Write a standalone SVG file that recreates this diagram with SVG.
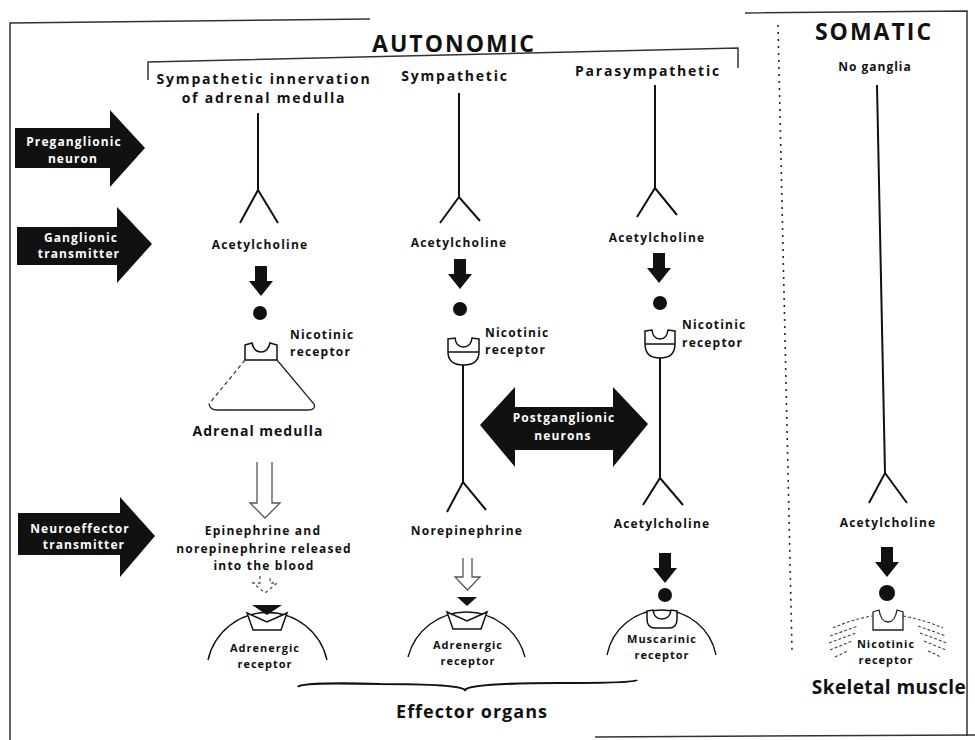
<svg xmlns="http://www.w3.org/2000/svg" width="975" height="740" viewBox="0 0 975 740">
<style>
text{font-family:'Open Sans','Liberation Sans',sans-serif;font-weight:700;fill:#111}
.t{font-size:12px;letter-spacing:1.2px}
.s{font-size:11px;letter-spacing:1px}
.h{font-size:14px;letter-spacing:1.8px}
.big{font-size:23px;letter-spacing:2px}
.w{fill:#fff;font-size:12px;letter-spacing:1.1px}
.m{text-anchor:middle}
.ln{stroke:#111;stroke-width:2;fill:none}
.fr{stroke:#333;stroke-width:1.5;fill:none}
.blk{fill:#111}
.rc{fill:#fff;stroke:#111;stroke-width:1.5}
.open{fill:none;stroke:#555;stroke-width:1.3}
</style>
<defs>
<path id="dn" d="M-6,0 H6 V15 H12 L0,30 L-12,15 H-6 Z"/>
</defs>
<rect width="975" height="740" fill="#fff"/>

<g id="frame">
<path class="fr" d="M10,740 V23 L370,19"/>
<path class="fr" d="M745,13 L967,11 V736"/>
<path class="fr" d="M595,737 L975,735"/>
<path class="fr" d="M148,80 V62 L738,48 V68"/>
<path d="M778,25 L792,650" stroke="#222" stroke-width="1.6" stroke-dasharray="2 5" fill="none"/>
</g>

<g id="titles">
<text class="big m" x="454" y="52">AUTONOMIC</text>
<text class="big m" x="874" y="40">SOMATIC</text>
<text class="h m" x="264" y="84">Sympathetic innervation</text>
<text class="h m" x="264" y="103">of adrenal medulla</text>
<text class="h m" x="455" y="81">Sympathetic</text>
<text class="h m" x="648" y="76">Parasympathetic</text>
<text class="m" x="875" y="71" style="font-size:12px;letter-spacing:1px">No ganglia</text>
</g>

<g id="label-preganglionic">
<path class="blk" d="M15,128 H110 V110 L145,148 L110,187 V168 H15 Z"/>
<text class="w m" x="74" y="146">Preganglionic</text>
<text class="w m" x="73" y="163">neuron</text>
</g>
<g id="label-ganglionic">
<path class="blk" d="M17,227 H117 V207 L152,244 L117,283 V265 H17 Z"/>
<text class="w m" x="81" y="242">Ganglionic</text>
<text class="w m" x="79" y="258">transmitter</text>
</g>
<g id="label-neuroeffector">
<path class="blk" d="M18,513 H120 V497 L155,536 L120,577 V555 H18 Z"/>
<text class="w m" x="80" y="533">Neuroeffector</text>
<text class="w m" x="84" y="549">transmitter</text>
</g>
<g id="label-postganglionic">
<path class="blk" d="M480,425 L515,387 V407 H613 V387 L648,424 L613,467 V450 H515 V467 Z"/>
<text class="w m" x="564" y="422">Postganglionic</text>
<text class="w m" x="563" y="440">neurons</text>
</g>

<g id="connectors">
<path class="ln" d="M258,113 V190 M240,223 L258,190 L278,223"/>
<use href="#dn" x="261" y="266" class="blk"/>
<path class="open" d="M257,462 V503 H250 L265,518 L280,503 H272 V462"/>
<path class="open" stroke-dasharray="3 3" d="M260,576 V583 H253 L265,593 L277,583 H270 V576"/>
<path class="ln" d="M459,93 V197 M440,223 L459,197 L480,221"/>
<use href="#dn" x="460" y="259" class="blk"/>
<path class="ln" d="M463,365 V482 M447,512 L463,482 L486,510"/>
<path class="open" d="M463,558 V577 H455 L467.5,590 L480,577 H472 V558"/>
<path class="ln" d="M655,85 V188 M637,217 L655,188 L677,215"/>
<use href="#dn" x="659" y="253" class="blk"/>
<path class="ln" d="M660,358 V478 M643,505 L660,478 L683,505"/>
<use href="#dn" x="665" y="553" class="blk"/>
<path class="ln" d="M877,85 L885,473 M869,503 L885,473 L907,503"/>
<use href="#dn" x="887" y="547" class="blk"/>
</g>

<g id="ach1"><text class="t m" x="260" y="249">Acetylcholine</text><circle cx="260" cy="313" r="7" class="blk"/></g>
<g id="ach2"><text class="t m" x="459" y="247">Acetylcholine</text><circle cx="460" cy="309" r="7" class="blk"/></g>
<g id="ach3"><text class="t m" x="657" y="242">Acetylcholine</text><circle cx="660" cy="303" r="7" class="blk"/></g>

<g id="adrenal-medulla">
<path class="rc" d="M245,345 L252,343 Q254,352 261,352 Q268,352 270,343 L277,345 V360 H245 Z"/>
<path d="M245,360 L209,404" stroke="#444" stroke-width="1.3" stroke-dasharray="4 3" fill="none"/>
<path d="M209,404 Q210,410 217,410 H308 Q316,410 314,404 L277,360" stroke="#222" stroke-width="1.3" fill="none"/>
<text class="t" x="290" y="339">Nicotinic</text>
<text class="t" x="290" y="356">receptor</text>
<text class="m" x="258" y="436" style="font-size:14px;letter-spacing:1px">Adrenal medulla</text>
</g>

<g id="nicotinic2">
<path class="rc" d="M448,339 L455,338 Q456,347 463.5,347 Q471,347 472,338 L479,339 V352 Q479,365 463.5,365 Q448,365 448,352 Z M448,352 H479"/>
<text class="t" x="485" y="337">Nicotinic</text>
<text class="t" x="485" y="354">receptor</text>
</g>
<g id="nicotinic3">
<path class="rc" d="M645,331 L652,330 Q653,339 660,339 Q667,339 668,330 L675,331 V344 Q675,358 660,358 Q645,358 645,344 Z M645,344 H675"/>
<text class="t" x="682" y="329">Nicotinic</text>
<text class="t" x="682" y="347">receptor</text>
</g>

<g id="blood-release">
<text class="t m" x="263" y="535">Epinephrine and</text>
<text class="t m" x="264" y="553">norepinephrine released</text>
<text class="t m" x="264" y="570">into the blood</text>
</g>
<g id="norepinephrine"><text class="t m" x="467" y="535">Norepinephrine</text></g>
<g id="ach3b"><text class="t m" x="662" y="528">Acetylcholine</text><circle cx="665" cy="595" r="7" class="blk"/></g>
<g id="ach-somatic"><text class="t m" x="888" y="527">Acetylcholine</text><circle cx="887" cy="593" r="8" class="blk"/></g>

<g id="effector1">
<path class="blk" d="M252,605 H282 L267,615 Z"/>
<path class="ln" style="stroke-width:1.4" d="M208,660 A61,61 0 0 1 327,660"/>
<path class="rc" d="M247,613 L267,622 L287,613 L281,630 H253 Z"/>
<text class="s m" x="265" y="652">Adrenergic</text>
<text class="s m" x="265" y="668">receptor</text>
</g>
<g id="effector2">
<path class="blk" d="M457,597 H477 L467,606 Z"/>
<path class="ln" style="stroke-width:1.4" d="M408,657 A60.5,60.5 0 0 1 525,657"/>
<path class="rc" d="M447,612 L467,621 L487,612 L481,629 H453 Z"/>
<text class="s m" x="468" y="649">Adrenergic</text>
<text class="s m" x="468" y="665">receptor</text>
</g>
<g id="effector3">
<path class="ln" style="stroke-width:1.4" d="M607,655 A55.5,55.5 0 0 1 716,655"/>
<path class="rc" d="M647,611 L653,610 Q654,619 662,619 Q670,619 671,610 L677,611 V619 Q677,628 669,628 H655 Q647,628 647,619 Z"/>
<text class="s m" x="662" y="643">Muscarinic</text>
<text class="s m" x="662" y="659">receptor</text>
</g>
<g id="skeletal-muscle">
<g stroke="#444" stroke-width="1.1" stroke-dasharray="3 2" fill="none">
<path d="M833,628 Q850,620 872,616 M830,636 L858,626 M829,643 L856,633 M830,650 L852,641 M835,657 L848,651"/>
<path d="M903,616 Q925,620 943,628 M918,626 L946,636 M920,633 L947,643 M924,641 L946,650 M928,651 L941,657"/>
</g>
<path d="M873,612 L879,610 Q881,622 888,622 Q895,622 897,610 L903,612 V630 H873 Z" fill="#fff" stroke="#222" stroke-width="1.3"/>
<text class="s m" x="886" y="648">Nicotinic</text>
<text class="s m" x="886" y="664">receptor</text>
<text class="m" x="889" y="694" style="font-size:19px;letter-spacing:0.4px">Skeletal muscle</text>
</g>

<g id="effector-organs">
<path d="M298,687 Q300,682 380,684 Q460,684 465,690 Q470,683 560,683 Q635,683 637,680" stroke="#111" stroke-width="2.2" fill="none"/>
<text class="m" x="472" y="718" style="font-size:18px;letter-spacing:1px">Effector organs</text>
</g>
</svg>
